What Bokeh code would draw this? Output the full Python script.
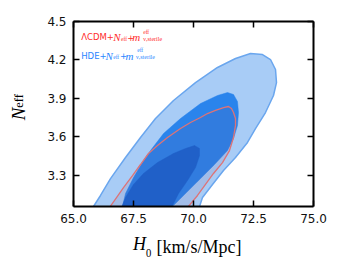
import math
from bokeh.plotting import figure
from bokeh.models import LinearAxis, FixedTicker, PrintfTickFormatter, Label, Range1d
from bokeh.embed import file_html
from bokeh.resources import INLINE

# ---- data ----
x_ticks = [65.0, 67.5, 70.0, 72.5, 75.0]
y_ticks = [3.3, 3.6, 3.9, 4.2, 4.5]

# HDE + Neff + m_sterile : 2 sigma contour
hde_2s_h0 = [65.646, 65.833, 66.125, 66.542, 67.167, 67.792, 68.417, 69.167, 70.083, 71.0,
             71.75, 72.375, 72.875, 73.208, 73.417, 73.458, 73.333, 73.0, 72.583, 72.25,
             71.75, 71.25, 70.792, 70.375, 70.25, 70.167]
hde_2s_neff = [3.0, 3.055, 3.141, 3.273, 3.438, 3.594, 3.742, 3.883, 4.023, 4.141,
               4.211, 4.25, 4.242, 4.203, 4.125, 4.023, 3.922, 3.789, 3.664, 3.555,
               3.438, 3.336, 3.227, 3.125, 3.055, 3.0]

# HDE : 1 sigma contour
hde_1s_h0 = [66.958, 67.042, 67.167, 67.5, 67.917, 68.208, 68.75, 69.458, 70.292, 71.0,
             71.417, 71.667, 71.833, 71.875, 71.833, 71.667, 71.417, 70.875, 70.292, 69.708,
             69.125, 68.875]
hde_1s_neff = [3.0, 3.055, 3.156, 3.281, 3.414, 3.492, 3.625, 3.742, 3.859, 3.922,
               3.945, 3.930, 3.875, 3.789, 3.688, 3.586, 3.492, 3.383, 3.273, 3.164,
               3.055, 3.0]

# LambdaCDM + Neff + m_sterile : 2 sigma contour
lcdm_2s_h0 = [66.333, 66.5, 66.792, 67.083, 67.458, 67.792, 68.125, 68.5, 68.917, 69.458,
              69.875, 70.292, 70.583, 70.917, 71.25, 71.458, 71.583, 71.667, 71.75, 71.75,
              71.667, 71.5, 71.208, 70.833, 70.5, 70.167, 69.75, 69.583]
lcdm_2s_neff = [3.0, 3.047, 3.125, 3.203, 3.297, 3.383, 3.469, 3.531, 3.594, 3.664,
                3.711, 3.75, 3.781, 3.805, 3.828, 3.836, 3.820, 3.789, 3.742, 3.688,
                3.594, 3.492, 3.398, 3.313, 3.227, 3.141, 3.047, 3.0]

# LambdaCDM : 1 sigma contour
lcdm_1s_h0 = [66.917, 67.0, 67.167, 67.5, 67.917, 68.5, 69.167, 69.667, 70.042, 70.25,
              70.25, 70.083, 69.75, 69.375, 69.083, 68.958]
lcdm_1s_neff = [3.0, 3.047, 3.125, 3.227, 3.313, 3.398, 3.469, 3.508, 3.531, 3.508,
                3.453, 3.359, 3.258, 3.156, 3.047, 3.0]

p = figure(width=342, height=268, x_range=Range1d(65.0, 75.0), y_range=Range1d(3.055, 4.5),
           output_backend="svg", toolbar_location=None,
           min_border_left=73, min_border_right=29, min_border_top=21, min_border_bottom=62)
p.grid.visible = False
p.outline_line_color = None
p.background_fill_color = "white"

p.patch(hde_2s_h0, hde_2s_neff, fill_color="#a8ccf6", line_color="#6aa6ee", line_width=1.5)
p.patch(hde_1s_h0, hde_1s_neff, fill_color="#2a84ec", line_color="#2a84ec", line_width=0.5)
p.patch(lcdm_2s_h0, lcdm_2s_neff, fill_color="#783c6e", fill_alpha=0.1,
        line_color="#dd7377", line_width=1.3)
p.patch(lcdm_1s_h0, lcdm_1s_neff, fill_color="#2060c8", line_color="#2060c8", line_width=0.5)

def style_axis(ax, ticks, show_labels):
    ax.ticker = FixedTicker(ticks=ticks)
    ax.formatter = PrintfTickFormatter(format="%.1f")
    ax.axis_line_width = 2
    ax.axis_line_color = "black"
    ax.major_tick_in = 6
    ax.major_tick_out = 0
    ax.minor_tick_in = 0
    ax.minor_tick_out = 0
    ax.major_tick_line_width = 1.5
    ax.major_tick_line_color = "black"
    ax.major_label_text_font = "DejaVu Sans"
    ax.major_label_text_font_size = "12px" if show_labels else "0px"
    ax.major_label_text_color = "#111111"
    ax.major_label_standoff = 7 if show_labels else 0

style_axis(p.xaxis[0], x_ticks, True)
style_axis(p.yaxis[0], y_ticks, True)
top = LinearAxis()
right = LinearAxis()
p.add_layout(top, "above")
p.add_layout(right, "right")
style_axis(top, x_ticks, False)
style_axis(right, y_ticks, False)

def title_axis(ax, pos, sym, sym_size, sym_standoff, label, label_size, label_standoff,
               orientation="horizontal"):
    """A bare axis used only to set the axis title text (symbol as one tick label)."""
    ax.ticker = FixedTicker(ticks=[pos])
    ax.formatter = PrintfTickFormatter(format=sym)
    ax.axis_line_color = None
    ax.major_tick_line_color = None
    ax.minor_tick_line_color = None
    ax.major_label_text_font = "Liberation Serif"
    ax.major_label_text_font_size = f"{sym_size}px"
    ax.major_label_text_color = "black"
    ax.major_label_standoff = sym_standoff
    ax.major_label_orientation = orientation
    ax.axis_label = label
    ax.axis_label_text_font = "Liberation Serif"
    ax.axis_label_text_font_size = f"{label_size}px"
    ax.axis_label_text_color = "black"
    ax.axis_label_standoff = label_standoff

# x axis title:  H (italic) + "₀ [km/s/Mpc]"
xt = LinearAxis()
p.add_layout(xt, "below")
title_axis(xt, 67.75, "H", 18, 2, "₀ [km/s/Mpc]", 18, -20)
xt.major_label_text_font_style = "italic"
xt.axis_label_text_font_style = "normal"

# y axis title:  N (italic) with subscript "eff"
yt = LinearAxis()
p.add_layout(yt, "left")
title_axis(yt, 3.88, "eff", 12.5, 12, "N", 19, -19, orientation="vertical")
yt.major_label_text_font_style = "normal"
yt.axis_label_text_font_style = "italic"

def lab(text, x, y, size, font="Liberation Serif", style="normal", color="black", angle=0.0):
    p.add_layout(Label(x=x, y=y, x_units="screen", y_units="screen", text=text,
                       text_font=font, text_font_style=style, text_font_size=f"{size}px",
                       text_color=color, text_baseline="alphabetic", angle=angle))

# legend texts
red = "#ff2a2a"
blue = "#2a86ff"
lab("ΛCDM+", 7.7, 169.3, 8.5, font="DejaVu Sans", color=red)
lab("N", 39.7, 169.3, 11, style="italic", color=red)
lab("eff", 47.5, 167.5, 5.5, color=red)
lab("+", 53.7, 169.3, 8.5, font="DejaVu Sans", color=red)
lab("m", 58.7, 169.3, 11, style="italic", color=red)
lab("eff", 69.7, 174.3, 5.5, color=red)
lab("ν,sterile", 69.7, 167.8, 6, color=red)

lab("HDE+", 7.7, 151, 8.5, font="DejaVu Sans", color=blue)
lab("N", 32, 151, 11, style="italic", color=blue)
lab("eff", 39.7, 149.3, 5.5, color=blue)
lab("+", 46.5, 151, 8.5, font="DejaVu Sans", color=blue)
lab("m", 52, 151, 11, style="italic", color=blue)
lab("eff", 63.7, 156.3, 5.5, color=blue)
lab("ν,sterile", 62.5, 149.6, 6, color=blue)

open("out.html", "w").write(file_html(p, INLINE))
